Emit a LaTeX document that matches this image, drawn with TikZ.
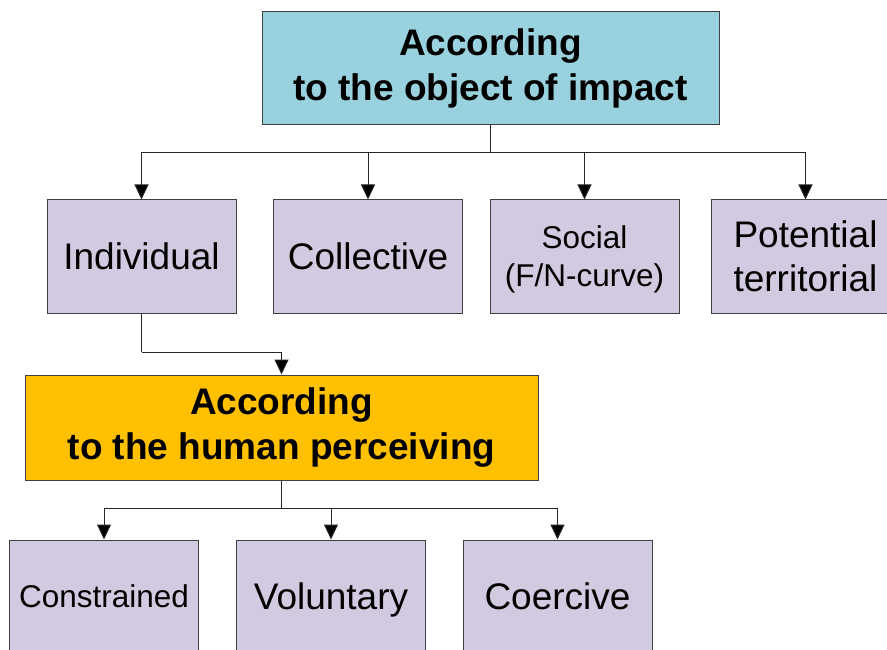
\documentclass[tikz,border=0pt]{standalone}
\usepackage{fontspec}
\setmainfont{Liberation Sans}
\usetikzlibrary{positioning,arrows.meta}

\definecolor{headblue}{HTML}{99D2DE}
\definecolor{headorange}{HTML}{FFC000}
\definecolor{leaflilac}{HTML}{D2CAE0}
\definecolor{edgegray}{HTML}{404040}

\begin{document}
\begin{tikzpicture}[
        x=1pt, y=-1pt,
        headnode/.style={rectangle, draw=edgegray, line width=1pt, align=center, inner sep=0pt,
            font=\fontsize{37}{45}\selectfont\bfseries},
        leafnode/.style={rectangle, draw=edgegray, fill=leaflilac, line width=1pt, align=center,
            inner sep=0pt, minimum width=189pt, minimum height=113pt, text depth=0pt,
            font=\fontsize{37}{44}\selectfont},
        smalltext/.style={font=\fontsize{31.5}{38}\selectfont},
        link/.style={draw=black!85, line width=1pt},
        arrowlink/.style={link, -{Triangle[width=14pt,length=15pt,fill=black]}}
        ]
        \useasboundingbox (0,0) rectangle (887,650);
        % first criterion
        \node[headnode, fill=headblue, minimum width=457pt, minimum height=113pt] (q_0) at (490.5,68.5)
            {According\\to the object of impact};
        \node[leafnode]                     (q_1) at (141.5,256.5)  {Individual};
        \node[leafnode]                     (q_2) at (368,256.5)    {Collective};
        \node[leafnode, smalltext]          (q_3) at (584.5,256.5)  {Social\\(F/N-curve)};
        \node[leafnode]                     (q_4) at (805.5,256.5)  {Potential\\territorial};
        % second criterion
        \node[headnode, fill=headorange, minimum width=513pt, minimum height=105pt] (q_5) at (281.5,427.5)
            {According\\to the human perceiving};
        \node[leafnode, smalltext]          (q_6) at (104,596.5)    {Constrained};
        \node[leafnode]                     (q_7) at (331,596.5)    {Voluntary};
        \node[leafnode]                     (q_8) at (557.5,596.5)  {Coercive};

        \coordinate (j_0) at (490.5,153);
        \coordinate (j_1) at (141.5,352);
        \coordinate (j_2) at (281.5,508);

        \path[link] (q_0) -- (j_0)
            (q_1) -- (j_1)
            (q_5) -- (j_2);
        \path[arrowlink]
            (j_0) -| (q_1);
        \path[arrowlink]
            (j_0) -| (q_2);
        \path[arrowlink]
            (j_0) -| (q_3);
        \path[arrowlink]
            (j_0) -| (q_4);
        \path[arrowlink]
            (j_1) -| (q_5);
        \path[arrowlink]
            (j_2) -| (q_6);
        \path[arrowlink]
            (j_2) -| (q_7);
        \path[arrowlink]
            (j_2) -| (q_8);
    \end{tikzpicture}
\end{document}
